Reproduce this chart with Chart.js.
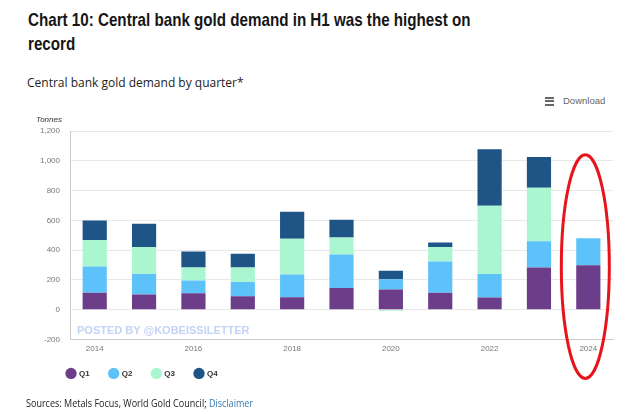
<!DOCTYPE html>
<html>
<head>
<meta charset="utf-8">
<script src="https://cdn.jsdelivr.net/npm/chart.js@4"></script>
<style>
  body { margin: 0; width: 630px; height: 414px; background: #fff; position: relative; overflow: hidden; font-family: "Open Sans", sans-serif; }
  #title { position: absolute; left: 28px; top: 8px; width: 700px; font-family: "Liberation Sans", Arial, sans-serif; font-weight: bold; font-size: 18.5px; line-height: 24px; color: #161616; transform: scaleX(0.82); transform-origin: left top; }
  #sub { position: absolute; left: 27px; top: 74px; font-size: 12px; color: #222; }
  #dl { position: absolute; left: 545px; top: 95px; font-family: "Liberation Sans", Arial, sans-serif; font-size: 9.5px; color: #666; }
  #dl span.ic { display: inline-block; width: 9px; vertical-align: middle; margin-right: 9px; }
  #dl span.ic i { display: block; height: 2px; background: #666; margin: 1.5px 0; }
  #tonnes { position: absolute; left: 36px; top: 115px; font-family: "Liberation Sans", Arial, sans-serif; font-style: italic; font-size: 8px; color: #333; }
  #wm { position: absolute; left: 77px; top: 324px; font-family: "Liberation Sans", Arial, sans-serif; font-weight: bold; font-size: 11px; color: #c4d2f6; }
  #src { position: absolute; left: 26px; top: 396px; font-size: 10.5px; color: #222; transform: scaleX(0.86); transform-origin: left top; white-space: nowrap; }
  #src a { color: #3a78ab; text-decoration: none; }
  #wrap { position: absolute; left: 0; top: 105px; width: 630px; height: 292px; }
</style>
</head>
<body>
<div id="title">Chart 10: Central bank gold demand in H1 was the highest on<br>record</div>
<div id="sub">Central bank gold demand by quarter*</div>
<div id="dl"><span class="ic"><i></i><i></i><i></i></span>Download</div>
<div id="wrap"><canvas id="chartOr"></canvas></div>
<div id="tonnes">Tonnes</div>
<div id="wm">POSTED BY @KOBEISSILETTER</div>
<div id="src">Sources: Metals Focus, World Gold Council; <a>Disclaimer</a></div>
<script>
// Donnees (tonnes)
const annees = ['2014', '2015', '2016', '2017', '2018', '2019', '2020', '2021', '2022', '2023', '2024'];
const q1 = [114, 101, 110, 90, 83, 146, 135, 114, 81, 283, 298];
const q2 = [175, 139, 85, 96, 153, 224, 69, 209, 159, 177, 182];
const q3 = [178, 180, 88, 97, 240, 115, -9, 97, 458, 359, null];
const q4 = [132, 157, 107, 92, 181, 118, 58, 31, 379, 206, null];
const yTicks = [-200, 0, 200, 400, 600, 800, 1000, 1200];

// Ellipse rouge autour de 2024
const ellipsePlugin = {
    id: 'ellipse',
    afterDraw(chart) {
        const x = chart.scales.x.getPixelForValue(annees.length - 1);
        const top = chart.scales.y.getPixelForValue(1040);
        const bottom = chart.chartArea.bottom + 39;
        const ctx = chart.ctx;
        ctx.save();
        ctx.strokeStyle = '#e8141b';
        ctx.lineWidth = 3;
        ctx.beginPath();
        ctx.ellipse(x - 3, (top + bottom) / 2, 24, (bottom - top) / 2, 0, 0, Math.PI * 2);
        ctx.stroke();
        ctx.restore();
    }
};

// Decale la legende vers la droite et la remonte un peu
const legendShift = {
    id: 'legendShift',
    afterUpdate(chart) {
        const lg = chart.legend;
        lg.left += 17;
        lg.right += 17;
        lg.top = chart.chartArea.bottom + 10;
    }
};

const ctxOr = document.getElementById('chartOr');
new Chart(ctxOr, {
    type: 'bar',
    data: {
        labels: annees,
        datasets: [
            { label: 'Q1', data: q1, backgroundColor: '#6c3e8a' },
            { label: 'Q2', data: q2, backgroundColor: '#5ec2fa' },
            { label: 'Q3', data: q3, backgroundColor: '#aaf6d1' },
            { label: 'Q4', data: q4, backgroundColor: '#1e5486' }
        ]
    },
    options: {
        responsive: true,
        maintainAspectRatio: false,
        animation: false,
        barPercentage: 0.98,
        categoryPercentage: 0.5,
        layout: { padding: { left: 30, right: 17, top: 26, bottom: 0 } },
        plugins: {
            tooltip: { enabled: false },
            legend: {
                position: 'bottom',
                align: 'start',
                labels: {
                    usePointStyle: true,
                    pointStyle: 'circle',
                    boxWidth: 8,
                    boxHeight: 8,
                    padding: 20,
                    color: '#333',
                    font: { family: 'Liberation Sans', size: 8, weight: 'bold' }
                }
            }
        },
        scales: {
            x: {
                stacked: true,
                grid: { display: false, drawTicks: false },
                border: { color: '#ccc' },
                ticks: {
                    autoSkip: false,
                    maxRotation: 0,
                    padding: 5,
                    color: '#777',
                    font: { family: 'Liberation Sans', size: 8 },
                    callback: (v, i) => (i % 2 === 0 ? annees[i] : '')
                }
            },
            y: {
                stacked: true,
                min: -200,
                max: 1200,
                afterBuildTicks: axis => { axis.ticks = yTicks.map(v => ({ value: v })); },
                grid: { color: '#e8e8e8', drawTicks: false },
                border: { color: '#ccc' },
                ticks: {
                    padding: 10,
                    color: '#777',
                    font: { family: 'Liberation Sans', size: 8 },
                    callback: v => v.toLocaleString('en-US')
                }
            }
        }
    },
    plugins: [ellipsePlugin, legendShift]
});
</script>
</body>
</html>
